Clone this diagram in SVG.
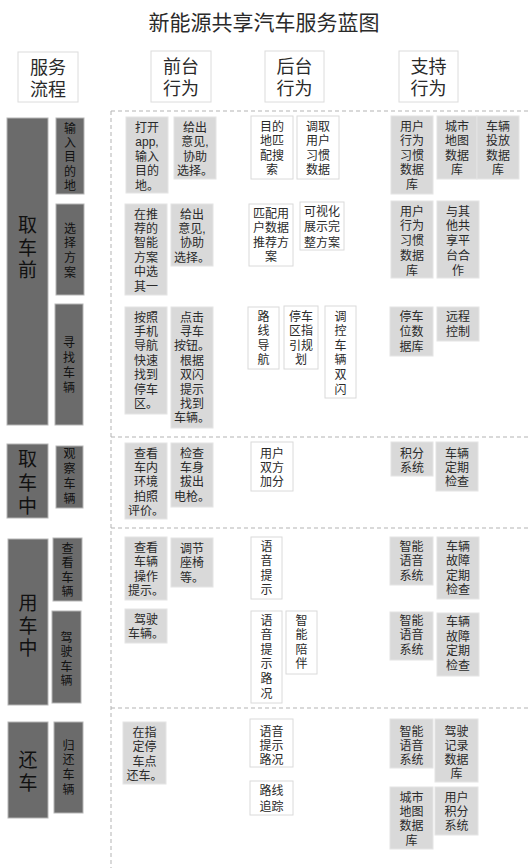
<svg xmlns="http://www.w3.org/2000/svg" width="528" height="868" viewBox="0 0 528 868">
<style>
text{font-family:"Liberation Sans","Noto Sans CJK SC","Noto Sans CJK TC",sans-serif;text-anchor:middle;fill:#2a2a2a}
.t{font-size:12px}
.h{font-size:18px}
.st{font-size:19px;fill:#111}
.ttl{font-size:21px}
.hd{fill:#fff;stroke:#dcdcdc;stroke-width:1}
.dk{fill:#6b6b6b;stroke:#b5b5b5;stroke-width:1}
.d{fill:#111}
.gr{fill:#d9d9d9;stroke:#e4e4e4;stroke-width:1}
.wh{fill:#fff;stroke:#dadada;stroke-width:1}
.lane{stroke:#b3b3b3;stroke-width:1;stroke-dasharray:4 3;fill:none}
</style>
<rect width="528" height="868" fill="#fff"/>
<text class="ttl" x="264" y="30">新能源共享汽车服务蓝图</text>

<g id="lanes">
<line class="lane" x1="111" y1="111" x2="111" y2="868"/>
<line class="lane" x1="111" y1="111" x2="528" y2="111"/>
<line class="lane" x1="111" y1="437" x2="528" y2="437"/>
<line class="lane" x1="111" y1="528" x2="528" y2="528"/>
<line class="lane" x1="111" y1="708" x2="528" y2="708"/>
</g>
<g id="connectors"></g>

<g id="hdr-flow"><rect class="hd" x="18" y="52" width="60" height="50"/><text class="h" x="48" y="74">服务</text><text class="h" x="48" y="95.5">流程</text></g>
<g id="hdr-front"><rect class="hd" x="151" y="51" width="60" height="51"/><text class="h" x="181" y="73">前台</text><text class="h" x="181" y="94.5">行为</text></g>
<g id="hdr-back"><rect class="hd" x="265" y="51" width="59" height="51"/><text class="h" x="294.5" y="73">后台</text><text class="h" x="294.5" y="94.5">行为</text></g>
<g id="hdr-support"><rect class="hd" x="399" y="51" width="59" height="51"/><text class="h" x="428.5" y="73">支持</text><text class="h" x="428.5" y="94.5">行为</text></g>

<g id="stage1"><rect class="dk" x="7" y="118" width="41" height="307"/><text class="st" x="27.5" y="232">取</text><text class="st" x="27.5" y="254.7">车</text><text class="st" x="27.5" y="277.4">前</text></g>
<g id="stage1a"><rect class="dk" x="56" y="118" width="28" height="76"/><text class="t d" x="70" y="132.5">输</text><text class="t d" x="70" y="146.9">入</text><text class="t d" x="70" y="161.3">目</text><text class="t d" x="70" y="175.7">的</text><text class="t d" x="70" y="190.1">地</text></g>
<g id="stage1b"><rect class="dk" x="56" y="204" width="28" height="91"/><text class="t d" x="70" y="232.5">选</text><text class="t d" x="70" y="247.3">择</text><text class="t d" x="70" y="262.1">方</text><text class="t d" x="70" y="276.9">案</text></g>
<g id="stage1c"><rect class="dk" x="55" y="304" width="28" height="121"/><text class="t d" x="69" y="346.5">寻</text><text class="t d" x="69" y="361.5">找</text><text class="t d" x="69" y="376.5">车</text><text class="t d" x="69" y="391.5">辆</text></g>

<g id="stage2"><rect class="dk" x="7" y="444" width="41" height="74"/><text class="st" x="27.5" y="466">取</text><text class="st" x="27.5" y="489.5">车</text><text class="st" x="27.5" y="513">中</text></g>
<g id="stage2a"><rect class="dk" x="56" y="446" width="27" height="62"/><text class="t d" x="69.5" y="457.5">观</text><text class="t d" x="69.5" y="472.5">察</text><text class="t d" x="69.5" y="487.5">车</text><text class="t d" x="69.5" y="502.5">辆</text></g>

<g id="stage3"><rect class="dk" x="8" y="539" width="40" height="166"/><text class="st" x="28" y="610">用</text><text class="st" x="28" y="632.5">车</text><text class="st" x="28" y="655">中</text></g>
<g id="stage3a"><rect class="dk" x="53" y="538" width="29" height="63"/><text class="t d" x="67.5" y="552.5">查</text><text class="t d" x="67.5" y="567.1">看</text><text class="t d" x="67.5" y="581.7">车</text><text class="t d" x="67.5" y="596.3">辆</text></g>
<g id="stage3b"><rect class="dk" x="52" y="611" width="29" height="92"/><text class="t d" x="66.5" y="641.5">驾</text><text class="t d" x="66.5" y="656">驶</text><text class="t d" x="66.5" y="670.5">车</text><text class="t d" x="66.5" y="685">辆</text></g>

<g id="stage4"><rect class="dk" x="8" y="722" width="40" height="96"/><text class="st" x="28" y="767">还</text><text class="st" x="28" y="789.5">车</text></g>
<g id="stage4a"><rect class="dk" x="54" y="722" width="29" height="91"/><text class="t d" x="68.5" y="749.5">归</text><text class="t d" x="68.5" y="764.2">还</text><text class="t d" x="68.5" y="778.9">车</text><text class="t d" x="68.5" y="793.6">辆</text></g>

<g id="f1"><rect class="gr" x="126" y="117" width="42" height="76"/><text class="t" x="147" y="132">打开</text><text class="t" x="147" y="146.4">app,</text><text class="t" x="147" y="160.8">输入</text><text class="t" x="147" y="175.2">目的</text><text class="t" x="147" y="189.6">地。</text></g>
<g id="f2"><rect class="gr" x="174" y="117" width="42" height="62"/><text class="t" x="195" y="132">给出</text><text class="t" x="195" y="146.4">意见,</text><text class="t" x="195" y="160.8">协助</text><text class="t" x="195" y="175.2">选择。</text></g>
<g id="f3"><rect class="gr" x="125" y="204" width="42" height="91"/><text class="t" x="146" y="218.5">在推</text><text class="t" x="146" y="232.9">荐的</text><text class="t" x="146" y="247.3">智能</text><text class="t" x="146" y="261.7">方案</text><text class="t" x="146" y="276.1">中选</text><text class="t" x="146" y="290.5">其一</text></g>
<g id="f4"><rect class="gr" x="171" y="204" width="42" height="62"/><text class="t" x="192" y="218.5">给出</text><text class="t" x="192" y="232.9">意见,</text><text class="t" x="192" y="247.3">协助</text><text class="t" x="192" y="261.7">选择。</text></g>
<g id="f5"><rect class="gr" x="125" y="307" width="42" height="107"/><text class="t" x="146" y="321.5">按照</text><text class="t" x="146" y="335.9">手机</text><text class="t" x="146" y="350.3">导航</text><text class="t" x="146" y="364.7">快速</text><text class="t" x="146" y="379.1">找到</text><text class="t" x="146" y="393.5">停车</text><text class="t" x="146" y="407.9">区。</text></g>
<g id="f6"><rect class="gr" x="171" y="307" width="42" height="121"/><text class="t" x="192" y="321.5">点击</text><text class="t" x="192" y="335.9">寻车</text><text class="t" x="192" y="350.3">按钮。</text><text class="t" x="192" y="364.7">根据</text><text class="t" x="192" y="379.1">双闪</text><text class="t" x="192" y="393.5">提示</text><text class="t" x="192" y="407.9">找到</text><text class="t" x="192" y="422.3">车辆。</text></g>
<g id="f7"><rect class="gr" x="125" y="443" width="42" height="76"/><text class="t" x="146" y="457.5">查看</text><text class="t" x="146" y="471.9">车内</text><text class="t" x="146" y="486.3">环境</text><text class="t" x="146" y="500.7">拍照</text><text class="t" x="146" y="515.1">评价。</text></g>
<g id="f8"><rect class="gr" x="171" y="443" width="42" height="64"/><text class="t" x="192" y="457.5">检查</text><text class="t" x="192" y="471.9">车身</text><text class="t" x="192" y="486.3">拔出</text><text class="t" x="192" y="500.7">电枪。</text></g>
<g id="f9"><rect class="gr" x="125" y="537" width="42" height="63"/><text class="t" x="146" y="551.5">查看</text><text class="t" x="146" y="566.1">车辆</text><text class="t" x="146" y="580.7">操作</text><text class="t" x="146" y="595.3">提示。</text></g>
<g id="f10"><rect class="gr" x="171" y="538" width="42" height="49"/><text class="t" x="192" y="552.5">调节</text><text class="t" x="192" y="567.1">座椅</text><text class="t" x="192" y="581.7">等。</text></g>
<g id="f11"><rect class="gr" x="125" y="609" width="42" height="34"/><text class="t" x="146" y="623.5">驾驶</text><text class="t" x="146" y="638.1">车辆。</text></g>
<g id="f12"><rect class="gr" x="123" y="722" width="43" height="62"/><text class="t" x="144.5" y="736.5">在指</text><text class="t" x="144.5" y="751.1">定停</text><text class="t" x="144.5" y="765.7">车点</text><text class="t" x="144.5" y="780.3">还车。</text></g>

<g id="b1"><rect class="wh" x="251" y="116" width="42" height="63"/><text class="t" x="272" y="131">目的</text><text class="t" x="272" y="145.4">地匹</text><text class="t" x="272" y="159.8">配搜</text><text class="t" x="272" y="174.2">索</text></g>
<g id="b2"><rect class="wh" x="297" y="116" width="42" height="63"/><text class="t" x="318" y="131">调取</text><text class="t" x="318" y="145.4">用户</text><text class="t" x="318" y="159.8">习惯</text><text class="t" x="318" y="174.2">数据</text></g>
<g id="b3"><rect class="wh" x="249" y="204" width="44" height="62"/><text class="t" x="271" y="218">匹配用</text><text class="t" x="271" y="232.4">户数据</text><text class="t" x="271" y="246.8">推荐方</text><text class="t" x="271" y="261.2">案</text></g>
<g id="b4"><rect class="wh" x="300" y="202" width="44" height="48"/><text class="t" x="322" y="215.5">可视化</text><text class="t" x="322" y="231">展示完</text><text class="t" x="322" y="246.5">整方案</text></g>
<g id="b5"><rect class="wh" x="248" y="307" width="31" height="62"/><text class="t" x="263.5" y="320.5">路</text><text class="t" x="263.5" y="335.1">线</text><text class="t" x="263.5" y="349.7">导</text><text class="t" x="263.5" y="364.3">航</text></g>
<g id="b6"><rect class="wh" x="284" y="306" width="34" height="63"/><text class="t" x="301" y="320.5">停车</text><text class="t" x="301" y="335.1">区指</text><text class="t" x="301" y="349.7">引规</text><text class="t" x="301" y="364.3">划</text></g>
<g id="b7"><rect class="wh" x="325" y="306" width="31" height="92"/><text class="t" x="340.5" y="320.5">调</text><text class="t" x="340.5" y="335.1">控</text><text class="t" x="340.5" y="349.7">车</text><text class="t" x="340.5" y="364.3">辆</text><text class="t" x="340.5" y="378.9">双</text><text class="t" x="340.5" y="393.5">闪</text></g>
<g id="b8"><rect class="wh" x="251" y="442" width="42" height="49"/><text class="t" x="272" y="457.5">用户</text><text class="t" x="272" y="471.9">双方</text><text class="t" x="272" y="486.3">加分</text></g>
<g id="b9"><rect class="wh" x="251" y="537" width="31" height="62"/><text class="t" x="266.5" y="550.5">语</text><text class="t" x="266.5" y="565.1">音</text><text class="t" x="266.5" y="579.7">提</text><text class="t" x="266.5" y="594.3">示</text></g>
<g id="b10"><rect class="wh" x="251" y="611" width="31" height="92"/><text class="t" x="266.5" y="624.5">语</text><text class="t" x="266.5" y="639.1">音</text><text class="t" x="266.5" y="653.7">提</text><text class="t" x="266.5" y="668.3">示</text><text class="t" x="266.5" y="682.9">路</text><text class="t" x="266.5" y="697.5">况</text></g>
<g id="b11"><rect class="wh" x="286" y="611" width="31" height="63"/><text class="t" x="301.5" y="624.5">智</text><text class="t" x="301.5" y="639.1">能</text><text class="t" x="301.5" y="653.7">陪</text><text class="t" x="301.5" y="668.3">伴</text></g>
<g id="b12"><rect class="wh" x="250" y="719" width="43" height="48"/><text class="t" x="271.5" y="735.5">语音</text><text class="t" x="271.5" y="749.7">提示</text><text class="t" x="271.5" y="763.9">路况</text></g>
<g id="b13"><rect class="wh" x="250" y="781" width="43" height="34"/><text class="t" x="271.5" y="795">路线</text><text class="t" x="271.5" y="810.5">追踪</text></g>

<g id="s1"><rect class="gr" x="391" y="116" width="42" height="78"/><text class="t" x="412" y="131">用户</text><text class="t" x="412" y="145.4">行为</text><text class="t" x="412" y="159.8">习惯</text><text class="t" x="412" y="174.2">数据</text><text class="t" x="412" y="188.6">库</text></g>
<g id="s2"><rect class="gr" x="437" y="116" width="40" height="63"/><text class="t" x="457" y="131">城市</text><text class="t" x="457" y="145.4">地图</text><text class="t" x="457" y="159.8">数据</text><text class="t" x="457" y="174.2">库</text></g>
<g id="s3"><rect class="gr" x="477" y="116" width="42" height="63"/><text class="t" x="498" y="131">车辆</text><text class="t" x="498" y="145.4">投放</text><text class="t" x="498" y="159.8">数据</text><text class="t" x="498" y="174.2">库</text></g>
<g id="s4"><rect class="gr" x="391" y="201" width="42" height="77"/><text class="t" x="412" y="215.5">用户</text><text class="t" x="412" y="230.3">行为</text><text class="t" x="412" y="245.1">习惯</text><text class="t" x="412" y="259.9">数据</text><text class="t" x="412" y="274.7">库</text></g>
<g id="s5"><rect class="gr" x="437" y="201" width="42" height="77"/><text class="t" x="458" y="215.5">与其</text><text class="t" x="458" y="230.3">他共</text><text class="t" x="458" y="245.1">享平</text><text class="t" x="458" y="259.9">台合</text><text class="t" x="458" y="274.7">作</text></g>
<g id="s6"><rect class="gr" x="390" y="307" width="43" height="49"/><text class="t" x="411.5" y="321">停车</text><text class="t" x="411.5" y="336">位数</text><text class="t" x="411.5" y="351">据库</text></g>
<g id="s7"><rect class="gr" x="437" y="307" width="42" height="34"/><text class="t" x="458" y="321">远程</text><text class="t" x="458" y="336">控制</text></g>
<g id="s8"><rect class="gr" x="391" y="442" width="42" height="34"/><text class="t" x="412" y="457.5">积分</text><text class="t" x="412" y="471.9">系统</text></g>
<g id="s9"><rect class="gr" x="436" y="442" width="42" height="49"/><text class="t" x="457" y="457.5">车辆</text><text class="t" x="457" y="471.9">定期</text><text class="t" x="457" y="486.3">检查</text></g>
<g id="s10"><rect class="gr" x="390" y="537" width="43" height="48"/><text class="t" x="411.5" y="550.5">智能</text><text class="t" x="411.5" y="565.1">语音</text><text class="t" x="411.5" y="579.7">系统</text></g>
<g id="s11"><rect class="gr" x="437" y="537" width="42" height="62"/><text class="t" x="458" y="550.5">车辆</text><text class="t" x="458" y="565.1">故障</text><text class="t" x="458" y="579.7">定期</text><text class="t" x="458" y="594.3">检查</text></g>
<g id="s12"><rect class="gr" x="390" y="612" width="43" height="48"/><text class="t" x="411.5" y="624.5">智能</text><text class="t" x="411.5" y="639.1">语音</text><text class="t" x="411.5" y="653.7">系统</text></g>
<g id="s13"><rect class="gr" x="437" y="613" width="42" height="63"/><text class="t" x="458" y="626">车辆</text><text class="t" x="458" y="640.6">故障</text><text class="t" x="458" y="655.2">定期</text><text class="t" x="458" y="669.8">检查</text></g>
<g id="s14"><rect class="gr" x="390" y="719" width="43" height="49"/><text class="t" x="411.5" y="735.5">智能</text><text class="t" x="411.5" y="749.7">语音</text><text class="t" x="411.5" y="763.9">系统</text></g>
<g id="s15"><rect class="gr" x="435" y="719" width="43" height="63"/><text class="t" x="456.5" y="735.5">驾驶</text><text class="t" x="456.5" y="749.7">记录</text><text class="t" x="456.5" y="763.9">数据</text><text class="t" x="456.5" y="778.1">库</text></g>
<g id="s16"><rect class="gr" x="390" y="787" width="43" height="62"/><text class="t" x="411.5" y="801.5">城市</text><text class="t" x="411.5" y="815.9">地图</text><text class="t" x="411.5" y="830.3">数据</text><text class="t" x="411.5" y="844.7">库</text></g>
<g id="s17"><rect class="gr" x="435" y="787" width="43" height="48"/><text class="t" x="456.5" y="801.5">用户</text><text class="t" x="456.5" y="815.9">积分</text><text class="t" x="456.5" y="830.3">系统</text></g>
</svg>
